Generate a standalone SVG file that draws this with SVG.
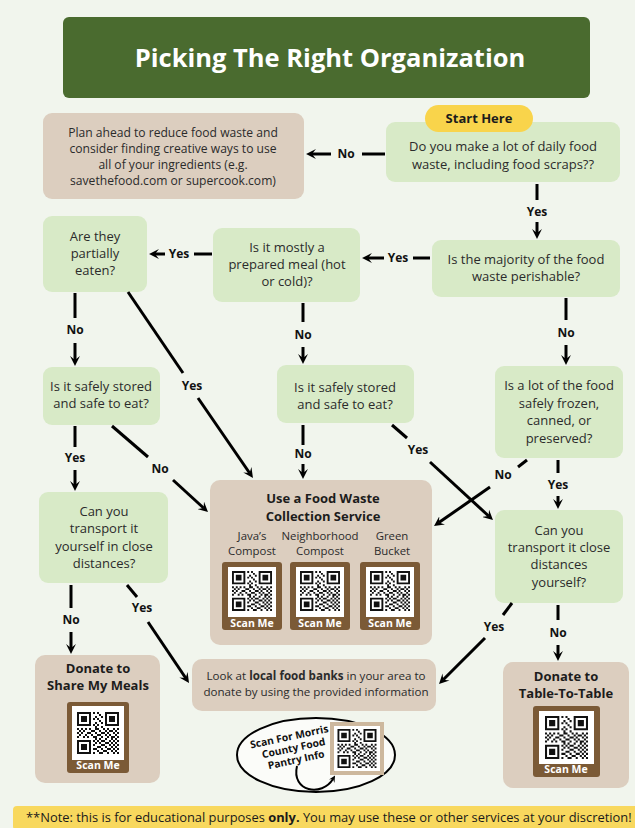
<svg xmlns="http://www.w3.org/2000/svg" xmlns:xlink="http://www.w3.org/1999/xlink" width="635" height="828" viewBox="0 0 635 828">
<style>
.g{fill:#d8eac7}
.b{fill:#dccebf}
.t{font-family:"Open Sans","Noto Sans",sans-serif;font-size:13px;fill:#2b2b2b;text-anchor:middle}
.s{font-size:12.1px}
.xs{font-size:11.4px}
.lo{font-size:11.6px}
.h{font-weight:700;fill:#1c1c1c}
.lbl{font-family:"Open Sans","Noto Sans",sans-serif;font-weight:700;font-size:12px;fill:#111;text-anchor:middle}
.c{stroke:#000;stroke-width:3;fill:none}
.a{marker-end:url(#ah)}
.fr{fill:#7b5a36}
.sm{font-family:"Open Sans","Noto Sans",sans-serif;font-weight:700;font-size:10.5px;fill:#fff;text-anchor:middle}
</style>
<defs>
<marker id="ah" viewBox="0 0 10 10" refX="4" refY="5" markerWidth="3.3" markerHeight="3.3" orient="auto" markerUnits="strokeWidth">
<path d="M0,0 L10,5 L0,10 L4,5 z" fill="#000"/>
</marker>
<symbol id="qr" viewBox="0 0 21 21">
<path fill="#111" d="M0 0h7v7h-7z M14 0h7v7h-7z M0 14h7v7h-7z"/>
<path fill="#fff" d="M1 1h5v5h-5z M15 1h5v5h-5z M1 15h5v5h-5z"/>
<path fill="#111" d="M2 2h3v3h-3z M16 2h3v3h-3z M2 16h3v3h-3z
M8 0h1v1h-1z M10 0h1v1h-1z M11 1h1v1h-1z M9 2h1v1h-1z M12 2h1v1h-1z M8 3h1v1h-1z M10 3h1v1h-1z M11 4h1v1h-1z M9 5h1v1h-1z M12 5h1v1h-1z M8 6h1v1h-1z M10 6h1v1h-1z M9 7h1v1h-1z M12 7h1v1h-1z
M0 8h1v1h-1z M2 8h1v1h-1z M4 8h1v1h-1z M6 8h1v1h-1z M9 8h2v1h-2z M13 8h1v1h-1z M15 8h1v1h-1z M18 8h1v1h-1z M20 8h1v1h-1z
M1 9h1v1h-1z M3 9h1v1h-1z M7 9h2v1h-2z M11 9h1v1h-1z M14 9h1v1h-1z M16 9h2v1h-2z M19 9h1v1h-1z
M0 10h1v1h-1z M2 10h1v1h-1z M5 10h2v1h-2z M9 10h1v1h-1z M12 10h2v1h-2z M15 10h1v1h-1z M18 10h1v1h-1z M20 10h1v1h-1z
M1 11h1v1h-1z M4 11h1v1h-1z M7 11h1v1h-1z M10 11h2v1h-2z M14 11h1v1h-1z M16 11h1v1h-1z M19 11h1v1h-1z
M0 12h1v1h-1z M3 12h1v1h-1z M5 12h1v1h-1z M8 12h2v1h-2z M12 12h1v1h-1z M15 12h1v1h-1z M17 12h2v1h-2z M20 12h1v1h-1z
M9 13h1v1h-1z M11 13h1v1h-1z M14 13h1v1h-1z M17 13h1v1h-1z M19 13h1v1h-1z
M8 14h1v1h-1z M10 14h1v1h-1z M12 14h2v1h-2z M16 14h1v1h-1z M18 14h1v1h-1z M20 14h1v1h-1z
M9 15h1v1h-1z M11 15h1v1h-1z M14 15h2v1h-2z M17 15h1v1h-1z M19 15h1v1h-1z
M8 16h1v1h-1z M12 16h2v1h-2z M16 16h1v1h-1z M18 16h1v1h-1z M20 16h1v1h-1z
M10 17h2v1h-2z M14 17h1v1h-1z M17 17h1v1h-1z M19 17h1v1h-1z
M8 18h2v1h-2z M12 18h1v1h-1z M15 18h2v1h-2z M18 18h1v1h-1z M20 18h1v1h-1z
M10 19h1v1h-1z M13 19h2v1h-2z M17 19h1v1h-1z M19 19h1v1h-1z
M8 20h1v1h-1z M11 20h2v1h-2z M15 20h1v1h-1z M18 20h1v1h-1z M20 20h1v1h-1z"/>
</symbol>
</defs>

<rect x="0" y="0" width="635" height="828" fill="#f1f5ed"/>

<g id="title">
<rect x="63" y="17" width="527" height="81" rx="6" fill="#4a6b2f"/>
<text x="330" y="67" font-family="'Open Sans','Noto Sans',sans-serif" font-weight="700" font-size="25.5" fill="#fff" text-anchor="middle">Picking The Right Organization</text>
</g>

<g id="plan">
<rect class="b" x="43" y="113" width="261" height="86" rx="9"/>
<text class="t s"><tspan x="173" y="137">Plan ahead to reduce food waste and</tspan><tspan x="173" y="153">consider finding creative ways to use</tspan><tspan x="173" y="169">all of your ingredients (e.g.</tspan><tspan x="173" y="185">savethefood.com or supercook.com)</tspan></text>
</g>

<g id="q1">
<rect class="g" x="386" y="122" width="234" height="60" rx="9"/>
<text class="t"><tspan x="503" y="151">Do you make a lot of daily food</tspan><tspan x="503" y="169">waste, including food scraps??</tspan></text>
</g>

<g id="start">
<rect x="425" y="105" width="108" height="27" rx="13.5" fill="#f9d44b"/>
<text class="t h" x="479" y="123">Start Here</text>
</g>

<g id="q2">
<rect class="g" x="432" y="240" width="188" height="57" rx="9"/>
<text class="t"><tspan x="526" y="264">Is the majority of the food</tspan><tspan x="526" y="281">waste perishable?</tspan></text>
</g>

<g id="q3">
<rect class="g" x="213" y="228" width="147" height="74" rx="9"/>
<text class="t"><tspan x="287" y="252">Is it mostly a</tspan><tspan x="287" y="269">prepared meal (hot</tspan><tspan x="287" y="286">or cold)?</tspan></text>
</g>

<g id="q4">
<rect class="g" x="43" y="216" width="104" height="76" rx="9"/>
<text class="t"><tspan x="95" y="241">Are they</tspan><tspan x="95" y="258">partially</tspan><tspan x="95" y="275">eaten?</tspan></text>
</g>

<g id="q5">
<rect class="g" x="43" y="367" width="117" height="58" rx="9"/>
<text class="t"><tspan x="101" y="391">Is it safely stored</tspan><tspan x="101" y="408">and safe to eat?</tspan></text>
</g>

<g id="q6">
<rect class="g" x="277" y="365" width="137" height="58" rx="9"/>
<text class="t"><tspan x="345" y="392">Is it safely stored</tspan><tspan x="345" y="409">and safe to eat?</tspan></text>
</g>

<g id="q7">
<rect class="g" x="495" y="366" width="128" height="92" rx="9"/>
<text class="t"><tspan x="559" y="390">Is a lot of the food</tspan><tspan x="559" y="408">safely frozen,</tspan><tspan x="559" y="425">canned, or</tspan><tspan x="559" y="443">preserved?</tspan></text>
</g>

<g id="collection">
<rect class="b" x="210" y="480" width="222" height="165" rx="10"/>
<text class="t h"><tspan x="323" y="503">Use a Food Waste</tspan><tspan x="323" y="521">Collection Service</tspan></text>
<text class="t xs"><tspan x="252" y="540">Java’s</tspan><tspan x="252" y="555">Compost</tspan></text>
<text class="t xs"><tspan x="320" y="540">Neighborhood</tspan><tspan x="320" y="555">Compost</tspan></text>
<text class="t xs"><tspan x="392" y="540">Green</tspan><tspan x="392" y="555">Bucket</tspan></text>
<rect class="fr" x="222" y="562" width="60" height="68" rx="3"/>
<rect x="228" y="567" width="48" height="50" fill="#fff"/>
<use xlink:href="#qr" href="#qr" x="232" y="570" width="40" height="42"/>
<text class="sm" x="252" y="627">Scan Me</text>
<rect class="fr" x="290" y="562" width="60" height="68" rx="3"/>
<rect x="296" y="567" width="48" height="50" fill="#fff"/>
<use xlink:href="#qr" href="#qr" x="300" y="570" width="40" height="42"/>
<text class="sm" x="320" y="627">Scan Me</text>
<rect class="fr" x="360" y="562" width="60" height="68" rx="3"/>
<rect x="366" y="567" width="48" height="50" fill="#fff"/>
<use xlink:href="#qr" href="#qr" x="370" y="570" width="40" height="42"/>
<text class="sm" x="390" y="627">Scan Me</text>
</g>

<g id="q8">
<rect class="g" x="495" y="510" width="128" height="93" rx="9"/>
<text class="t"><tspan x="559" y="535">Can you</tspan><tspan x="559" y="552">transport it close</tspan><tspan x="559" y="569">distances</tspan><tspan x="559" y="587">yourself?</tspan></text>
</g>

<g id="q9">
<rect class="g" x="39" y="492" width="129" height="91" rx="9"/>
<text class="t"><tspan x="104" y="516">Can you</tspan><tspan x="104" y="533">transport it</tspan><tspan x="104" y="551">yourself in close</tspan><tspan x="104" y="568">distances?</tspan></text>
</g>

<g id="share">
<rect class="b" x="35" y="655" width="125" height="128" rx="10"/>
<text class="t h"><tspan x="98" y="673">Donate to</tspan><tspan x="98" y="690">Share My Meals</tspan></text>
<rect class="fr" x="67" y="702" width="62" height="71" rx="3"/>
<rect x="72" y="706" width="52" height="54" fill="#fff"/>
<use xlink:href="#qr" href="#qr" x="77" y="710" width="42" height="46"/>
<text class="sm" x="98" y="769">Scan Me</text>
</g>

<g id="table">
<rect class="b" x="503" y="662" width="126" height="126" rx="10"/>
<text class="t h"><tspan x="566" y="681">Donate to</tspan><tspan x="566" y="698">Table-To-Table</tspan></text>
<rect class="fr" x="533" y="706" width="67" height="71" rx="3"/>
<rect x="539" y="711" width="55" height="53" fill="#fff"/>
<use xlink:href="#qr" href="#qr" x="545" y="714" width="43" height="47"/>
<text class="sm" x="566" y="773">Scan Me</text>
</g>

<g id="local">
<rect class="b" x="192" y="659" width="244" height="52" rx="10"/>
<text class="t lo"><tspan x="316" y="680">Look at <tspan font-weight="700">local food banks</tspan> in your area to</tspan><tspan x="316" y="696">donate by using the provided information</tspan></text>
</g>

<g id="pantry">
<ellipse cx="316" cy="755" rx="79" ry="37" fill="#fbfcf9" stroke="#000" stroke-width="2"/>
<g transform="rotate(-12 292 750)" font-family="'Open Sans','Noto Sans',sans-serif" font-weight="700" font-size="10.3" fill="#111" text-anchor="middle">
<text x="292" y="740">Scan For Morris</text>
<text x="294" y="752">County Food</text>
<text x="294" y="764">Pantry Info</text>
</g>
<rect x="330" y="722" width="54" height="53" fill="#cdb89e"/>
<rect x="334" y="726" width="46" height="45" fill="#fff"/>
<use xlink:href="#qr" href="#qr" x="337" y="729" width="40" height="39"/>
<path d="M297,766 C291,792 322,797 333,779" stroke="#000" stroke-width="2" fill="none" marker-end="url(#ah)"/>
</g>

<g id="note">
<rect x="13" y="806" width="630" height="24" rx="4" fill="#f8d85e"/>
<text x="26" y="822" font-family="'Open Sans','Noto Sans',sans-serif" font-size="12.9" fill="#1a1a1a">**Note: this is for educational purposes <tspan font-weight="700">only.</tspan> You may use these or other services at your discretion!</text>
</g>

<g id="connectors">
<path class="c" d="M385,154 H362"/>
<path class="c a" d="M331,154 H312"/>
<text class="lbl" x="346" y="158">No</text>

<path class="c" d="M537,184 V200"/>
<path class="c a" d="M537,222 V233"/>
<text class="lbl" x="537" y="216">Yes</text>

<path class="c" d="M430,258 H413"/>
<path class="c a" d="M384,258 H368"/>
<text class="lbl" x="398" y="262">Yes</text>

<path class="c" d="M212,254 H194"/>
<path class="c a" d="M165,254 H155"/>
<text class="lbl" x="179" y="258">Yes</text>

<path class="c" d="M75,293 V318"/>
<path class="c a" d="M75,343 V360"/>
<text class="lbl" x="75" y="334">No</text>

<path class="c" d="M128,292 L183,373"/>
<path class="c a" d="M198,398 L249.6,473"/>
<text class="lbl" x="192" y="390">Yes</text>

<path class="c" d="M303,303 V322"/>
<path class="c a" d="M303,347 V358"/>
<text class="lbl" x="303" y="339">No</text>

<path class="c" d="M566,298 V320"/>
<path class="c a" d="M566,345 V359"/>
<text class="lbl" x="566" y="337">No</text>

<path class="c" d="M75,426 V447"/>
<path class="c a" d="M75,470 V485"/>
<text class="lbl" x="75" y="462">Yes</text>

<path class="c" d="M112,426 L148,457"/>
<path class="c a" d="M173,480 L203.6,508"/>
<text class="lbl" x="160" y="473">No</text>

<path class="c" d="M303,425 V445"/>
<path class="c a" d="M303,464 V473"/>
<text class="lbl" x="303" y="458">No</text>

<path class="c" d="M392,425 L407,438"/>
<path class="c a" d="M430,462 L488.6,516"/>
<text class="lbl" x="418" y="454">Yes</text>

<path class="c" d="M527,460 L518,467"/>
<path class="c a" d="M490,487 L438.9,522.6"/>
<text class="lbl" x="503" y="479">No</text>

<path class="c" d="M558,460 V473"/>
<path class="c a" d="M558,496 V503"/>
<text class="lbl" x="558" y="489">Yes</text>

<path class="c" d="M71,585 V608"/>
<path class="c a" d="M71,632 V648"/>
<text class="lbl" x="71" y="624">No</text>

<path class="c" d="M127,585 L137,597"/>
<path class="c a" d="M148,622 L185.7,678"/>
<text class="lbl" x="142" y="612">Yes</text>

<path class="c" d="M558,605 V620"/>
<path class="c a" d="M558,645 V655"/>
<text class="lbl" x="558" y="637">No</text>

<path class="c" d="M512,603 L503,615"/>
<path class="c a" d="M485,638 L443.2,679.8"/>
<text class="lbl" x="494" y="631">Yes</text>
</g>
</svg>
